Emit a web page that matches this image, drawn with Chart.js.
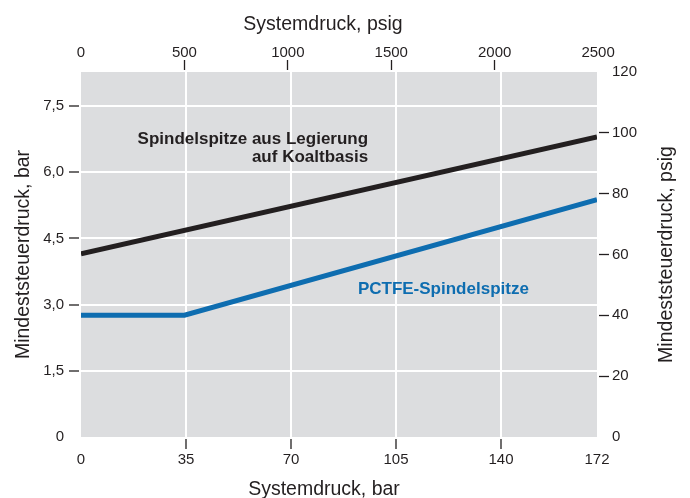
<!DOCTYPE html>
<html>
<head>
<meta charset="utf-8">
<script src="https://cdn.jsdelivr.net/npm/chart.js@4.4.1/dist/chart.umd.min.js"></script>
<style>
  html, body { margin: 0; padding: 0; background: #fff; }
  canvas { display: block; }
</style>
</head>
<body>
<canvas id="chart" width="690" height="498"></canvas>
<script>
// data (bar on x, bar on left y)
const kobalt_x = [0, 172]
const kobalt_y = [4.15, 6.8]
const pctfe_x = [0, 34.5, 172]
const pctfe_y = [2.76, 2.76, 5.38]

const bar_ticks = [0, 35, 70, 105, 140, 172]
const psig_ticks = [0, 500, 1000, 1500, 2000, 2500]
const left_ticks = [0, 1.5, 3.0, 4.5, 6.0, 7.5]
const right_ticks = [0, 20, 40, 60, 80, 100, 120]

const PSI_PER_BAR = 14.5038
const X_MAX = 172
const Y2_MAX = 120

const INK = '#231f20'
const BLUE = '#0e6db0'
const FONT = 'Liberation Sans, Arial, Helvetica, sans-serif'

function to_points(xs, ys) {
  return xs.map((x, i) => ({ x: x, y: ys[i] }))
}

// white grid inside, dark tick marks outside, nothing at the edges
function grid_color(first_last_hidden, color) {
  return (ctx) => {
    const n = ctx.scale.ticks.length
    if (ctx.index === 0) return 'rgba(0,0,0,0)'
    if (first_last_hidden && ctx.index === n - 1) return 'rgba(0,0,0,0)'
    return color
  }
}

function fixed_size(size) {
  return (scale) => {
    if (scale.isHorizontal()) scale.height = size
    else scale.width = size
  }
}

const plot_bg = {
  id: 'plot_bg',
  beforeDraw(chart) {
    const a = chart.chartArea
    const c = chart.ctx
    c.save()
    c.fillStyle = '#dcdddf'
    c.fillRect(a.left, a.top, a.right - a.left, a.bottom - a.top)
    c.restore()
  }
}

// line names + the axis titles that sit off-centre / read bottom-up
const chart_texts = {
  id: 'chart_texts',
  afterDatasetsDraw(chart) {
    const c = chart.ctx
    const x = chart.scales.x
    const y = chart.scales.y
    const a = chart.chartArea
    c.save()
    c.font = 'bold 17px ' + FONT
    c.textBaseline = 'middle'
    c.fillStyle = INK
    c.textAlign = 'right'
    c.fillText('Spindelspitze aus Legierung', x.getPixelForValue(95.7), y.getPixelForValue(6.75))
    c.fillText('auf Koaltbasis', x.getPixelForValue(95.7), y.getPixelForValue(6.35))
    c.fillStyle = BLUE
    c.textAlign = 'left'
    c.fillText('PCTFE-Spindelspitze', x.getPixelForValue(92.3), y.getPixelForValue(3.34))

    c.fillStyle = INK
    c.font = '19.5px ' + FONT
    c.textAlign = 'center'
    c.textBaseline = 'alphabetic'
    c.fillText('Systemdruck, psig', 323, 30)
    c.fillText('Systemdruck, bar', 324, 495)

    c.textBaseline = 'middle'
    c.translate(667, (a.top + a.bottom) / 2)
    c.rotate(-Math.PI / 2)
    c.fillText('Mindeststeuerdruck, psig', 0, 0)
    c.restore()
  }
}

const tick_font = { family: FONT, size: 15 }
const title_font = { family: FONT, size: 19.5 }

// tick marks with a 2px gap next to the plot
const mark_in = { tickBorderDash: [10, 2], tickBorderDashOffset: 0 }   // drawn outer -> edge
const mark_out = { tickBorderDash: [10, 2], tickBorderDashOffset: 10 } // drawn edge -> outer

new Chart(document.getElementById('chart'), {
  type: 'line',
  data: {
    datasets: [
      {
        label: 'Spindelspitze aus Legierung auf Koaltbasis',
        data: to_points(kobalt_x, kobalt_y),
        borderColor: INK,
        borderWidth: 5,
        pointRadius: 0,
        xAxisID: 'x',
        yAxisID: 'y'
      },
      {
        label: 'PCTFE-Spindelspitze',
        data: to_points(pctfe_x, pctfe_y),
        borderColor: BLUE,
        borderWidth: 5,
        pointRadius: 0,
        xAxisID: 'x',
        yAxisID: 'y'
      }
    ]
  },
  options: {
    responsive: false,
    animation: false,
    layout: { padding: 0 },
    plugins: { legend: { display: false }, tooltip: { enabled: false } },
    scales: {
      x: {
        type: 'linear',
        position: 'bottom',
        min: 0,
        max: X_MAX,
        afterBuildTicks: (s) => { s.ticks = bar_ticks.map(v => ({ value: v })) },
        afterFit: fixed_size(61),
        border: { display: false },
        grid: Object.assign({
          color: grid_color(true, '#ffffff'),
          lineWidth: 2,
          tickColor: grid_color(true, INK),
          tickWidth: 1.3,
          tickLength: 12
        }, mark_out),
        ticks: { color: INK, font: tick_font, padding: 2, maxRotation: 0, autoSkip: false },
        title: { display: false }
      },
      x2: {
        type: 'linear',
        position: 'top',
        min: 0,
        max: X_MAX * PSI_PER_BAR,
        afterBuildTicks: (s) => { s.ticks = psig_ticks.map(v => ({ value: v })) },
        afterFit: fixed_size(72),
        border: { display: false },
        grid: Object.assign({
          drawOnChartArea: false,
          tickColor: grid_color(true, INK),
          tickWidth: 1.3,
          tickLength: 12
        }, mark_in),
        ticks: {
          color: INK, font: tick_font, padding: -2, maxRotation: 0, autoSkip: false,
          callback: (v) => String(v)
        },
        title: { display: false }
      },
      y: {
        type: 'linear',
        position: 'left',
        min: 0,
        max: Y2_MAX / PSI_PER_BAR,
        afterBuildTicks: (s) => { s.ticks = left_ticks.map(v => ({ value: v })) },
        afterFit: fixed_size(81),
        border: { display: false },
        grid: Object.assign({
          color: grid_color(false, '#ffffff'),
          lineWidth: 2,
          tickColor: grid_color(false, INK),
          tickWidth: 1.3,
          tickLength: 12
        }, mark_in),
        ticks: {
          color: INK,
          font: tick_font,
          padding: 5,
          callback: (v) => v === 0 ? '0' : v.toFixed(1).replace('.', ',')
        },
        title: { display: true, text: 'Mindeststeuerdruck, bar', color: INK, font: title_font, padding: { top: 12, bottom: 0 } }
      },
      y2: {
        type: 'linear',
        position: 'right',
        min: 0,
        max: Y2_MAX,
        afterBuildTicks: (s) => { s.ticks = right_ticks.map(v => ({ value: v })) },
        afterFit: fixed_size(93),
        border: { display: false },
        grid: Object.assign({
          drawOnChartArea: false,
          tickColor: grid_color(true, INK),
          tickWidth: 1.3,
          tickLength: 12
        }, mark_out),
        ticks: { color: INK, font: tick_font, padding: 3 },
        title: { display: false }
      }
    }
  },
  plugins: [plot_bg, chart_texts]
})
</script>
</body>
</html>
